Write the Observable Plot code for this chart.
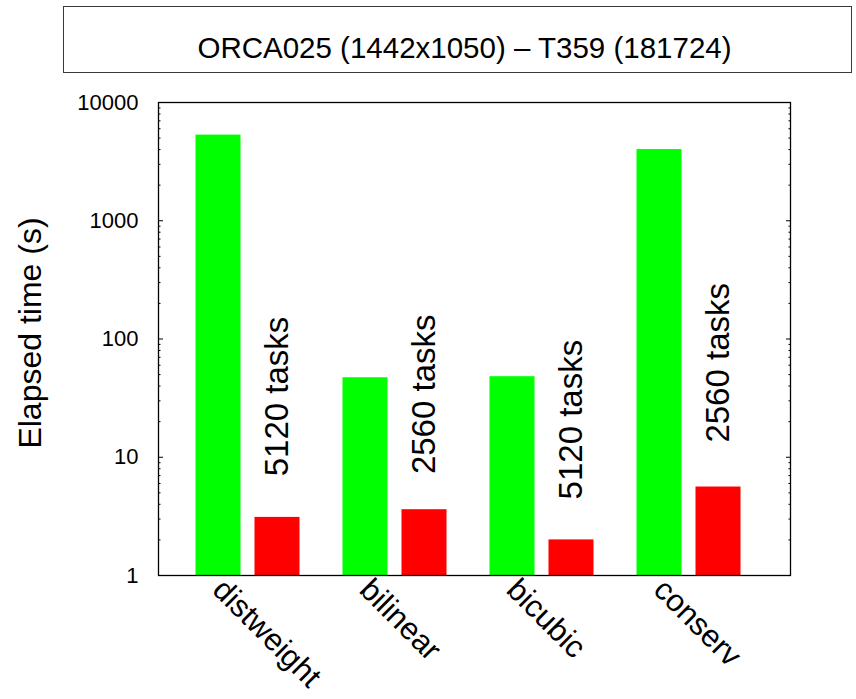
<!DOCTYPE html>
<html>
<head>
<meta charset="utf-8">
<script src="https://cdn.jsdelivr.net/npm/d3@7"></script>
<script src="https://cdn.jsdelivr.net/npm/@observablehq/plot@0.6"></script>
<style>
  body { margin: 0; background: #fff; font-family: "Liberation Sans", Arial, Helvetica, sans-serif; }
  #wrap { position: relative; width: 856px; height: 699px; overflow: hidden; }
  #chart { position: absolute; left: 0; top: 0; }
  #title { position: absolute; left: 63px; top: 6px; width: 789px; height: 67px; box-sizing: border-box;
           border: 1.5px solid #3a3a3a; background: #fff; }
  #title span { position: absolute; left: 14px; right: 0; top: 26px; text-align: center;
                font-size: 29.5px; line-height: 29.5px; color: #000; white-space: nowrap; }
</style>
</head>
<body>
<div id="wrap">
  <div id="chart"></div>
  <div id="title"><span>ORCA025 (1442x1050) – T359 (181724)</span></div>
</div>
<script>
// ---- data ----
const methods = ["distweight", "bilinear", "bicubic", "conserv"];
const serialTime = [5300, 47, 48, 4000];     // green bars (s)
const parallelTime = [3.1, 3.6, 2.0, 5.6];   // red bars (s)
const taskLabels = ["5120 tasks", "2560 tasks", "5120 tasks", "2560 tasks"];
const labelBase = [6.9, 7.2, 4.4, 13.3];     // y value where each rotated label starts
const yTicks = [1, 10, 100, 1000, 10000];
const yMinorTicks = [2, 3, 4, 5, 6, 7, 8, 9,
                     20, 30, 40, 50, 60, 70, 80, 90,
                     200, 300, 400, 500, 600, 700, 800, 900,
                     2000, 3000, 4000, 5000, 6000, 7000, 8000, 9000];
const yLabel = "Elapsed time (s)";

const rows = methods.map((m, i) => ({
  method: m, serial: serialTime[i], parallel: parallelTime[i],
  task: taskLabels[i], labelY: labelBase[i]
}));

const font = "Liberation Sans, Arial, Helvetica, sans-serif";

const chart = Plot.plot({
  width: 856,
  height: 699,
  marginLeft: 158,
  marginRight: 66,
  marginTop: 102,
  marginBottom: 124,
  style: { fontFamily: font, background: "white", color: "black" },
  x: { type: "band", domain: methods, range: [173.5, 761.5], padding: 0, axis: null },
  y: { type: "log", domain: [1, 10000], axis: null },
  marks: [
    Plot.barY(rows, { x: "method", y1: 1, y2: "serial", fill: "#00ff00", insetLeft: 21.5, insetRight: 80.5 }),
    Plot.barY(rows, { x: "method", y1: 1, y2: "parallel", fill: "#ff0000", insetLeft: 80.5, insetRight: 21.5 }),
    // minor ticks (inward, both sides)
    Plot.axisY({ ticks: yMinorTicks, anchor: "left", tickSize: 2.5, dx: 2.5, tickFormat: () => "", label: null }),
    Plot.axisY({ ticks: yMinorTicks, anchor: "right", tickSize: 2.5, dx: -2.5, tickFormat: () => "", label: null }),
    // major ticks
    Plot.axisY({ ticks: yTicks, anchor: "left", tickSize: 5, dx: 5, tickPadding: 20,
                 tickFormat: d3.format("d"), fontSize: 22, label: null }),
    Plot.axisY({ ticks: yTicks, anchor: "right", tickSize: 5, dx: -5, tickFormat: () => "", label: null }),
    Plot.frame({ stroke: "#000", strokeWidth: 1.3 }),
    // task labels above red bars
    Plot.text(rows, { x: "method", y: "labelY", text: "task", rotate: -90, textAnchor: "start",
                      dx: 29.5, fontSize: 33, fill: "#000" }),
    // category labels, rotated
    Plot.text(rows, { x: "method", text: "method", frameAnchor: "bottom", rotate: 45, textAnchor: "start",
                      dx: -37, dy: 16, fontSize: 31, fill: "#000" }),
    // y-axis title
    Plot.text([yLabel], { text: d => d, frameAnchor: "left", rotate: -90, textAnchor: "middle",
                          dx: -128, dy: -6, fontSize: 32, fill: "#000" })
  ]
});

document.getElementById("chart").appendChild(chart);
</script>
</body>
</html>
